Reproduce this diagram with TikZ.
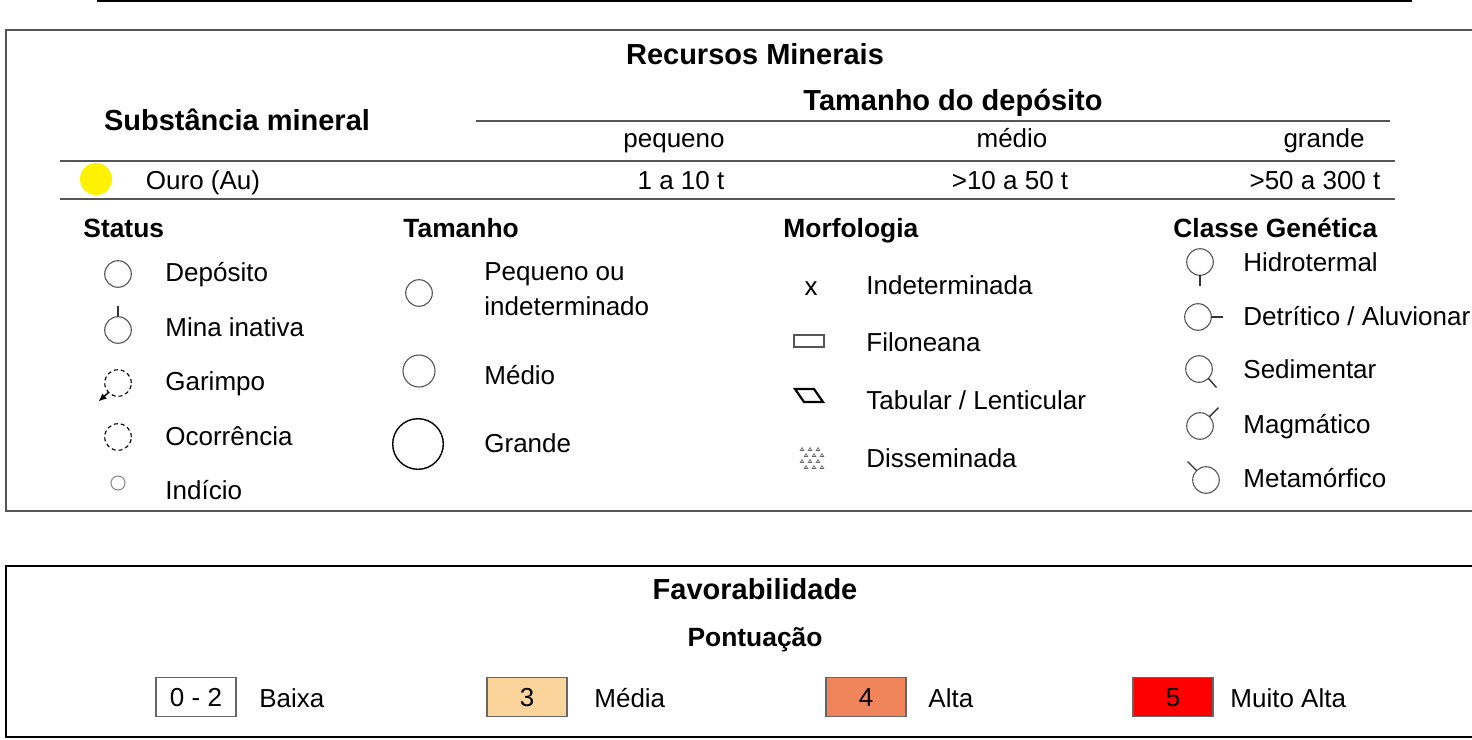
\documentclass[tikz,border=0pt]{standalone}
\usepackage{fontspec}
\setmainfont{Liberation Sans}
\usetikzlibrary{arrows.meta}
\definecolor{framegray}{HTML}{555555}
\definecolor{mediacol}{HTML}{FBD49C}
\definecolor{altacol}{HTML}{F0845A}
\begin{document}
\begin{tikzpicture}[x=0.5pt, y=-0.5pt,
    txt/.style={anchor=west, inner sep=0pt, text height=0.72em, text depth=0pt,
              yshift=-1pt, font=\fontsize{13}{15}\selectfont},
    ctxt/.style={txt, anchor=center},
    head/.style={anchor=center, inner sep=0pt, text height=0.72em, text depth=0pt,
              yshift=-1.2pt, font=\fontsize{14.5}{17}\selectfont\bfseries},
    subhead/.style={anchor=west, inner sep=0pt, text height=0.72em, text depth=0pt,
              yshift=-1pt, font=\fontsize{13.2}{16}\selectfont\bfseries},
    sym/.style={circle, draw=framegray, line width=0.55pt, inner sep=0pt,
              outer sep=0pt, minimum size=#1},
    sym/.default=13.3pt,
    tail/.style={draw=black!80, line width=0.7pt},
    scorebox/.style={draw=black!60, line width=0.8pt, minimum width=40pt,
              minimum height=19.5pt, inner sep=0pt, text height=9.4pt, text depth=0pt,
              font=\fontsize{13}{15}\selectfont}]
    \useasboundingbox (0,0) rectangle (1472,739);
    % frames
    \draw[line width=0.8pt] (97,1) -- (1412,1);
    \draw[framegray, line width=0.8pt] (1480,30) -- (6,30) -- (6,511) -- (1480,511);
    \draw[line width=1pt] (1480,566) -- (6,566) -- (6,737) -- (1480,737);
    % table of deposits
    \node[head] (rm) at (755,55) {Recursos Minerais};
    \node[head] (sm) at (237,121) {Substância mineral};
    \node[head] (td) at (953,101) {Tamanho do depósito};
    \draw[framegray, line width=0.7pt] (476,121) -- (1390,121);
    \draw[framegray, line width=0.7pt] (60,161) -- (1395,161);
    \draw[framegray, line width=0.7pt] (60,199) -- (1395,199);
    \foreach \x/\lab/\nm in {674/pequeno/pq, 1012/médio/md, 1324/grande/gr}{
        \node[ctxt] (\nm) at (\x,138) {\lab};
    }
    \node[ctxt] (v1) at (681,180) {1 a 10 t};
    \node[ctxt] (v2) at (1010,180) {>10 a 50 t};
    \node[ctxt] (v3) at (1315,180) {>50 a 300 t};
    \node[circle, fill=yellow, minimum size=16pt, inner sep=0pt] (au) at (96,179) {};
    \node[ctxt] (ouro) at (203,180) {Ouro (Au)};
    % headings
    \node[subhead] (hst) at (83,228) {Status};
    \node[subhead] (hta) at (403,228) {Tamanho};
    \node[subhead] (hmo) at (783,228) {Morfologia};
    \node[subhead] (hcg) at (1173,228) {Classe Genética};
    % status
    \node[sym] (dep) at (118,274) {};
    \node[txt] at (165,272) {Depósito};
    \node[sym] (mina) at (118,330) {};
    \draw[tail] (mina.north) -- ++(0,-11);
    \node[txt] at (165,327) {Mina inativa};
    \node[sym, draw=black, dashed, dash pattern=on 2pt off 1.5pt] (gar) at (118,383) {};
    \draw[black, line width=0.7pt, -{Latex[length=4pt,width=3.5pt]}] (gar.225) -- ++(-10,9);
    \node[txt] at (165,381) {Garimpo};
    \node[sym, draw=black, dashed, dash pattern=on 2pt off 1.5pt] (oco) at (118,437) {};
    \node[txt] at (165,436) {Ocorrência};
    \node[sym=7pt, draw=black!45] (ind) at (118,483) {};
    \node[txt] at (165,490) {Indício};
    % tamanho
    \node[sym] (tp) at (419,293) {};
    \node[txt] at (484,271) {Pequeno ou};
    \node[txt] at (484,306) {indeterminado};
    \node[sym=16pt] (tm) at (419,371) {};
    \node[txt] at (484,375) {Médio};
    \node[sym=25.3pt, draw=black, line width=0.7pt] (tg) at (418,444) {};
    \node[txt] at (484,443) {Grande};
    % morfologia
    \node[ctxt] (ndt) at (811,286) {x};
    \node[txt] at (866,285) {Indeterminada};
    \draw[framegray, line width=0.6pt] (794,335) rectangle (824,347);
    \node[txt] at (866,342) {Filoneana};
    \draw[black, line width=1.1pt] (795,389) -- (814,389) -- (823,402) -- (804,402) -- cycle;
    \node[txt] at (866,400) {Tabular / Lenticular};
    \foreach \r in {0,...,3}{
        \foreach \c in {0,...,2}{
            \pgfmathsetmacro\px{802+\c*8+mod(\r,2)*4}
            \pgfmathsetmacro\py{449+\r*6}
            \draw[black!60, line width=0.35pt] (\px-1.7,\py+1.4) -- (\px,\py-1.4) -- (\px+1.7,\py+1.4) -- cycle;
        }
    }
    \node[txt] at (866,458) {Disseminada};
    % classe genetica
    \node[sym] (hid) at (1200,262) {};
    \draw[tail] (hid.south) -- ++(0,11);
    \node[txt] at (1243,262) {Hidrotermal};
    \node[sym] (det) at (1198,317) {};
    \draw[tail] (det.east) -- ++(12,0);
    \node[txt] at (1243,316) {Detrítico / Aluvionar};
    \node[sym] (sed) at (1199,369) {};
    \draw[tail] (sed.-45) -- ++(8,9);
    \node[txt] at (1243,369) {Sedimentar};
    \node[sym] (mag) at (1200,426) {};
    \draw[tail] (mag.45) -- ++(9,-9);
    \node[txt] at (1243,424) {Magmático};
    \node[sym] (met) at (1206,480) {};
    \draw[tail] (met.135) -- ++(-9,-9);
    \node[txt] at (1243,478) {Metamórfico};
    % favorabilidade
    \node[head] (fav) at (755,590) {Favorabilidade};
    \node[head, font=\fontsize{13.2}{16}\selectfont\bfseries] (pont) at (755,637) {Pontuação};
    \node[scorebox, fill=white] (b0) at (196,697) {0 - 2};
    \node[txt] at (259,698) {Baixa};
    \node[scorebox, fill=mediacol] (b3) at (527,697) {3};
    \node[txt] at (594,698) {Média};
    \node[scorebox, fill=altacol] (b4) at (866,697) {4};
    \node[txt] at (928,698) {Alta};
    \node[scorebox, fill=red] (b5) at (1173,697) {5};
    \node[txt] at (1230,698) {Muito Alta};
\end{tikzpicture}
\end{document}
